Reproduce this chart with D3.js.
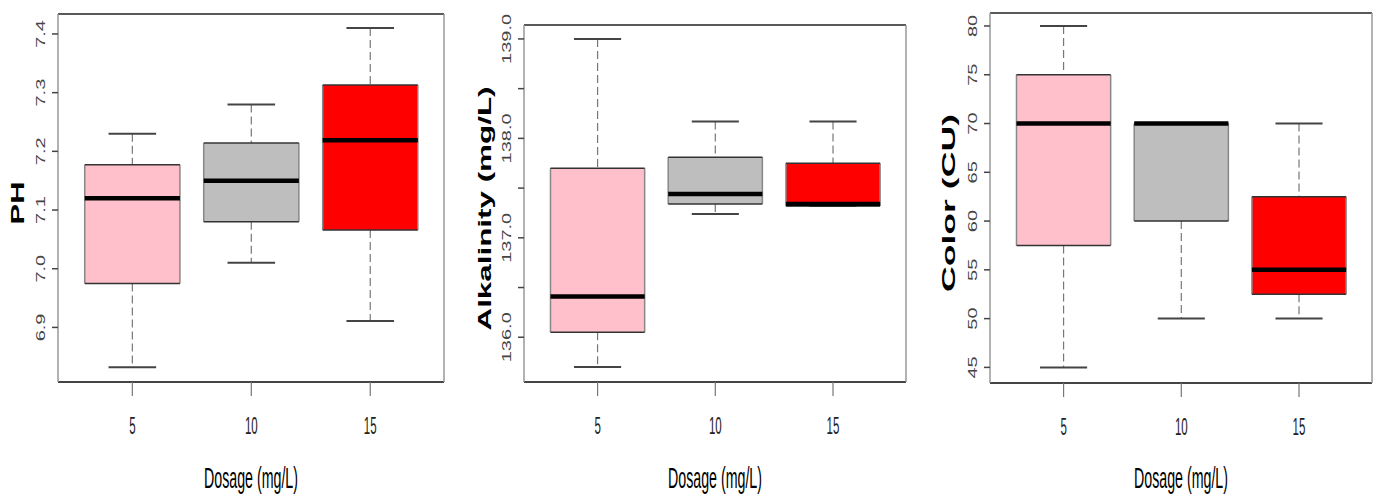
<!DOCTYPE html>
<html>
<head>
<meta charset="utf-8">
<script src="https://cdn.jsdelivr.net/npm/d3@7"></script>
<style>
  body { margin: 0; background: #fff; }
  text { font-family: "Liberation Sans", Arial, sans-serif; }
</style>
</head>
<body>
<script>
// ---- data: [min, q1, median, q3, max] per dosage ----
var dosages = ["5", "10", "15"];
var boxColors = ["#FFC0CB", "#BEBEBE", "#FF0000"];

var phStats = [
  [6.832, 6.975, 7.12, 7.177, 7.23],
  [7.01, 7.08, 7.15, 7.214, 7.28],
  [6.911, 7.066, 7.219, 7.313, 7.41]
];
var alkStats = [
  [135.70, 136.05, 136.41, 137.70, 139.0],
  [137.24, 137.34, 137.44, 137.81, 138.17],
  [137.32, 137.32, 137.34, 137.75, 138.17]
];
var colorStats = [
  [45, 57.5, 70, 75, 80],
  [50, 60, 70, 70, 70],
  [50, 52.5, 55, 62.5, 70]
];

var phTicks = [6.9, 7.0, 7.1, 7.2, 7.3, 7.4];
var alkTicks = [136.0, 136.5, 137.0, 137.5, 138.0, 138.5, 139.0];
var colorTicks = [45, 50, 55, 60, 65, 70, 75, 80];

var W = 1379, H = 501;
var svg = d3.select("body").append("svg")
  .attr("width", W)
  .attr("height", H);

// the picture is squeezed sideways, so text gets a horizontal scale
var panels = [
  { stats: phStats, ticks: phTicks, domain: [6.807, 7.434], title: "PH", titleLen: 43,
    frame: { x0: 58, x1: 444, y0: 14, y1: 382 }, titleX: 17.5, fmt: d3.format(".1f"),
    labelled: function(v) { return true; } },
  { stats: alkStats, ticks: alkTicks, domain: [135.55, 139.14], title: "Alkalinity (mg/L)", titleLen: 244,
    frame: { x0: 524, x1: 906, y0: 25, y1: 382 }, titleX: 485, fmt: d3.format(".1f"),
    labelled: function(v) { return Math.abs(v - Math.round(v)) < 1e-6; } },
  { stats: colorStats, ticks: colorTicks, domain: [43.4, 81.33], title: "Color (CU)", titleLen: 178,
    frame: { x0: 990, x1: 1372, y0: 13, y1: 383 }, titleX: 949, fmt: d3.format("d"),
    labelled: function(v) { return true; } }
];

panels.forEach(function(p) {
  var f = p.frame;
  var x = d3.scaleLinear().domain([0.375, 3.62]).range([f.x0, f.x1]);
  var y = d3.scaleLinear().domain(p.domain).range([f.y1, f.y0]);
  var g = svg.append("g");
  var boxW = x(1.4) - x(1);
  var capW = x(1.2) - x(1);

  // boxes
  p.stats.forEach(function(s, i) {
    var cx = x(i + 1);
    var bg = g.append("g");
    // whiskers
    bg.append("line")
      .attr("x1", cx).attr("x2", cx)
      .attr("y1", y(s[4])).attr("y2", y(s[3]))
      .attr("stroke", "#777").attr("stroke-width", 1.2)
      .attr("stroke-dasharray", "8,4");
    bg.append("line")
      .attr("x1", cx).attr("x2", cx)
      .attr("y1", y(s[1])).attr("y2", y(s[0]))
      .attr("stroke", "#777").attr("stroke-width", 1.2)
      .attr("stroke-dasharray", "8,4");
    // caps
    [s[0], s[4]].forEach(function(v) {
      bg.append("line")
        .attr("x1", cx - capW).attr("x2", cx + capW)
        .attr("y1", y(v)).attr("y2", y(v))
        .attr("stroke", "#444").attr("stroke-width", 2);
    });
    // box
    bg.append("rect")
      .attr("x", cx - boxW).attr("width", 2 * boxW)
      .attr("y", y(s[3])).attr("height", y(s[1]) - y(s[3]))
      .attr("fill", boxColors[i]);
    [cx - boxW, cx + boxW].forEach(function(xx) {
      bg.append("line")
        .attr("x1", xx).attr("x2", xx)
        .attr("y1", y(s[3])).attr("y2", y(s[1]))
        .attr("stroke", "#888").attr("stroke-width", 1.5);
    });
    [s[1], s[3]].forEach(function(v) {
      bg.append("line")
        .attr("x1", cx - boxW).attr("x2", cx + boxW)
        .attr("y1", y(v)).attr("y2", y(v))
        .attr("stroke", "#333").attr("stroke-width", 1.5);
    });
    // median
    bg.append("line")
      .attr("x1", cx - boxW).attr("x2", cx + boxW)
      .attr("y1", y(s[2])).attr("y2", y(s[2]))
      .attr("stroke", "#000").attr("stroke-width", 4.5);
  });

  // frame: dark horizontals, light verticals
  g.append("line").attr("x1", f.x0).attr("x2", f.x1).attr("y1", f.y0).attr("y2", f.y0)
    .attr("stroke", "#222").attr("stroke-width", 1.5);
  g.append("line").attr("x1", f.x0).attr("x2", f.x1).attr("y1", f.y1).attr("y2", f.y1)
    .attr("stroke", "#444").attr("stroke-width", 2);
  [f.x0, f.x1].forEach(function(xx) {
    g.append("line").attr("x1", xx).attr("x2", xx).attr("y1", f.y0).attr("y2", f.y1)
      .attr("stroke", "#999").attr("stroke-width", 1.5);
  });

  // y ticks
  p.ticks.forEach(function(t) {
    g.append("line")
      .attr("x1", f.x0 - 6).attr("x2", f.x0)
      .attr("y1", y(t)).attr("y2", y(t))
      .attr("stroke", "#444").attr("stroke-width", 1.5);
    if (p.labelled(t)) {
      g.append("text")
        .attr("transform", "translate(" + (f.x0 - 17) + "," + y(t) + ") scale(0.6,1) rotate(-90)")
        .attr("text-anchor", "middle")
        .attr("dominant-baseline", "central")
        .attr("font-size", 20)
        .attr("fill", "#444")
        .text(p.fmt(t));
    }
  });

  // x ticks
  dosages.forEach(function(d, i) {
    var cx = x(i + 1);
    g.append("line")
      .attr("x1", cx).attr("x2", cx)
      .attr("y1", f.y1).attr("y2", f.y1 + 14)
      .attr("stroke", "#777").attr("stroke-width", 1.2);
    g.append("text")
      .attr("transform", "translate(" + cx + "," + (f.y1 + 52) + ") scale(0.5,1)")
      .attr("text-anchor", "middle")
      .attr("font-size", 23)
      .attr("fill", "#222")
      .text(d);
  });

  // axis titles
  g.append("text")
    .attr("transform", "translate(" + ((f.x0 + f.x1) / 2) + ",488) scale(0.5,1)")
    .attr("text-anchor", "middle")
    .attr("font-size", 30)
    .attr("textLength", 188)
    .attr("lengthAdjust", "spacingAndGlyphs")
    .attr("fill", "#000")
    .text("Dosage (mg/L)");

  g.append("text")
    .attr("transform", "translate(" + p.titleX + "," + ((f.y0 + f.y1) / 2 + 5) + ") scale(0.55,1) rotate(-90)")
    .attr("text-anchor", "middle")
    .attr("dominant-baseline", "central")
    .attr("font-size", 32)
    .attr("font-weight", "bold")
    .attr("textLength", p.titleLen)
    .attr("lengthAdjust", "spacingAndGlyphs")
    .attr("fill", "#000")
    .text(p.title);
});
</script>
</body>
</html>
